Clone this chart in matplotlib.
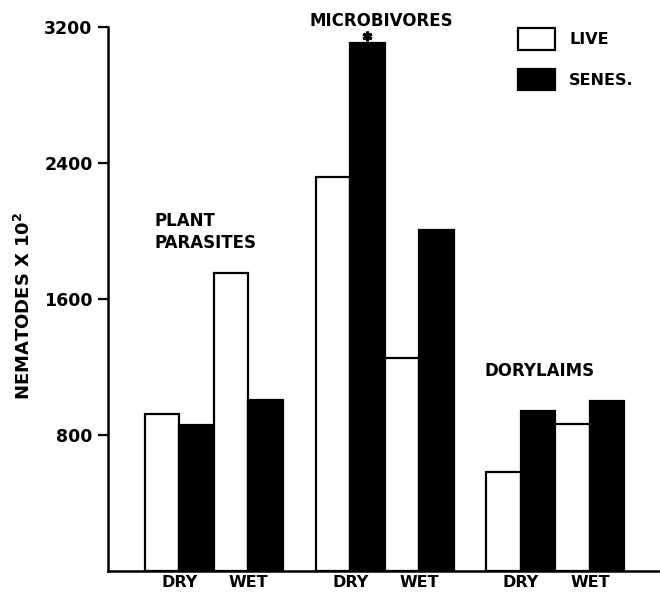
import matplotlib
matplotlib.use("Agg")
import matplotlib.pyplot as plt
import matplotlib.transforms as mtransforms
import numpy as np

plt.rcParams['font.family'] = ['DejaVu Sans']
plt.rcParams['font.weight'] = 'bold'
plt.rcParams['mathtext.fontset'] = 'dejavusans'

groups = ["PLANT\nPARASITES", "MICROBIVORES", "DORYLAIMS"]
conditions = ["DRY", "WET"]
live_dry = [924, 2318, 582]
senes_dry = [859, 3106, 941]
live_wet = [1753, 1253, 865]
senes_wet = [1006, 2006, 1000]
yticks = [800, 1600, 2400, 3200]
legend_labels = ["LIVE", "SENES."]

W, H = 660, 592
fig = plt.figure(figsize=(W / 100, H / 100), dpi=100)
ax = fig.add_axes([108 / W, (H - 571) / H, 552 / W, 544 / H])

start0, spacing = 1.07, 4.95
starts = np.array([start0 + g * spacing for g in range(len(groups))])
lw = 1.6
series = [(live_dry, 0, 'white'), (senes_dry, 1, 'black'),
          (live_wet, 2, 'white'), (senes_wet, 3, 'black')]
handles = {}
for vals, off, col in series:
    b = ax.bar(starts + off, vals, width=1.0, align='edge', color=col,
               edgecolor='black', linewidth=lw, zorder=2)
    handles[col] = b

# significance marker above microbivores dry senescent bar
star_tr = mtransforms.offset_copy(ax.transData, fig=fig, x=0, y=7, units='dots')
ax.plot([starts[1] + 1.5], [senes_dry[1]], marker=(6, 2, 0), markersize=7,
        markeredgewidth=2.2, color='black', transform=star_tr, clip_on=False)

ax.set_xlim(0, 16)
ax.set_ylim(0, 3200)
for s in ['top', 'right']:
    ax.spines[s].set_visible(False)
for s in ['left', 'bottom']:
    ax.spines[s].set_linewidth(1.8)

ax.set_yticks(yticks)
ax.set_yticklabels([str(v) for v in yticks], fontsize=12.5, fontweight='bold')
ax.tick_params(axis='y', length=7, width=1.6, pad=4)

xt = []
xl = []
for s in starts:
    xt += [s + 1.0, s + 3.0]
    xl += conditions
ax.set_xticks(xt)
ax.set_xticklabels(xl, fontsize=11.5, fontweight='bold')
ax.tick_params(axis='x', length=0, pad=3)

ax.set_ylabel("NEMATODES X $\\mathbf{10^{2}}$", fontsize=13, fontweight='bold')
ax.yaxis.set_label_coords((34 - 108) / 552, (571 - 306) / 544)

# group labels
fig.text(155 / W, 1 - 232 / H, groups[0], ha='left', va='center',
         fontsize=12, fontweight='bold', linespacing=1.25)
fig.text(381 / W, 1 - 21 / H, groups[1], ha='center', va='center',
         fontsize=12, fontweight='bold')
fig.text(540 / W, 1 - 371 / H, groups[2], ha='center', va='center',
         fontsize=12, fontweight='bold')

leg = ax.legend([handles['white'], handles['black']], legend_labels,
                loc='upper left', bbox_to_anchor=(518 / W, 1 - 28 / H),
                bbox_transform=fig.transFigure, frameon=False, borderpad=0,
                borderaxespad=0, handlelength=2.3, handleheight=1.7,
                handletextpad=0.9, labelspacing=1.2,
                prop={'size': 11.5, 'weight': 'bold'})

fig.savefig("out.png", dpi=100, facecolor='white')
